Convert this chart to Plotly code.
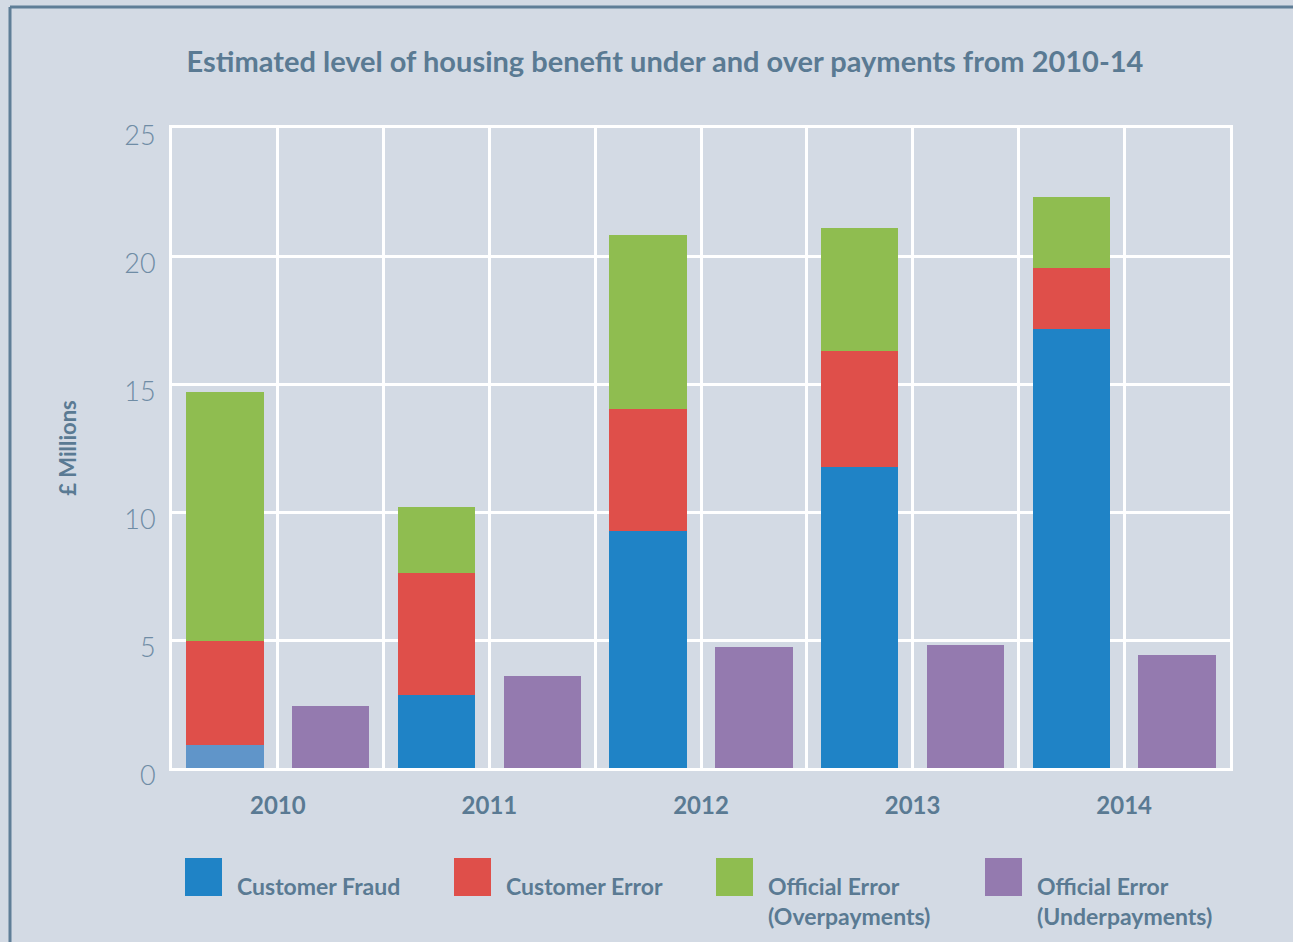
import plotly.graph_objects as go

years = ["2010", "2011", "2012", "2013", "2014"]
customer_fraud = [0.9, 2.85, 9.26, 11.76, 17.15]
customer_error = [4.06, 4.77, 4.76, 4.53, 2.38]
official_over = [9.73, 2.58, 6.8, 4.8, 2.77]
official_under = [2.42, 3.6, 4.73, 4.8, 4.41]
series_names = ["Customer Fraud", "Customer Error", "Official Error<br>(Overpayments)", "Official Error<br>(Underpayments)"]

BG = "#d3dae4"
TXT = "#5a7a93"
TICK = "#6f8ca5"
C_FRAUD = "#1f83c6"
C_FRAUD_2010 = "#6095c9"
C_ERR = "#df4f4a"
C_OVER = "#8fbd50"
C_UNDER = "#947aaf"

W, H = 1293, 942
L, R, T, B = 172, 1230, 128, 768

# bar positions: stacked bar in first half, underpayments in second half of each year slot
x_stack = [2 * i + 0.5 for i in range(len(years))]
x_under = [2 * i + 1.5 for i in range(len(years))]
bw = 0.73

fig = go.Figure()
fraud_colors = [C_FRAUD_2010 if y == "2010" else C_FRAUD for y in years]
fig.add_trace(go.Bar(x=x_stack, y=customer_fraud, width=bw, marker=dict(color=fraud_colors, line_width=0), name=series_names[0]))
fig.add_trace(go.Bar(x=x_stack, y=customer_error, width=bw, marker=dict(color=C_ERR, line_width=0), name=series_names[1]))
fig.add_trace(go.Bar(x=x_stack, y=official_over, width=bw, marker=dict(color=C_OVER, line_width=0), name=series_names[2]))
fig.add_trace(go.Bar(x=x_under, y=official_under, width=bw, marker=dict(color=C_UNDER, line_width=0), name=series_names[3]))

def px(xp):
    return (xp - L) / (R - L)

def py(yp):
    return (B - yp) / (B - T)

shapes = []
annotations = []
# outer frame lines (left and top)
shapes.append(dict(type="line", xref="paper", yref="paper", x0=px(10), x1=px(1300), y0=py(7), y1=py(7), line=dict(color="#5f7e97", width=3)))
shapes.append(dict(type="line", xref="paper", yref="paper", x0=px(10), x1=px(10), y0=py(7), y1=py(950), line=dict(color="#5f7e97", width=3)))

# custom legend
legend_colors = [C_FRAUD, C_ERR, C_OVER, C_UNDER]
sw_x = [185, 454, 716, 985]
for i, (c, nm) in enumerate(zip(legend_colors, series_names)):
    shapes.append(dict(type="rect", xref="paper", yref="paper", x0=px(sw_x[i]), x1=px(sw_x[i] + 37),
                       y0=py(896), y1=py(858), fillcolor=c, line_width=0))
    annotations.append(dict(xref="paper", yref="paper", x=px(sw_x[i] + 50), y=py(870), xanchor="left", yanchor="top",
                            text=nm, showarrow=False, align="left",
                            font=dict(family="Lato", size=23, color=TXT, weight="bold")))

fig.update_layout(
    width=W, height=H,
    margin=dict(l=L, r=W - R, t=T, b=H - B),
    paper_bgcolor=BG, plot_bgcolor=BG,
    barmode="stack", showlegend=False,
    title=dict(text="Estimated level of housing benefit under and over payments from 2010-14",
               x=(665) / W, xanchor="center", y=1 - 62 / H, yanchor="middle",
               font=dict(family="Lato", size=29, color=TXT, weight="bold")),
    xaxis=dict(range=[0, 10], tickmode="array", tickvals=[2 * i + 1 for i in range(len(years))], ticktext=years,
               showgrid=True, gridcolor="white", gridwidth=3, ticks="", ticklabelstandoff=14,
               tickfont=dict(family="Lato", size=24, color=TXT, weight="bold"),
               minor=dict(tickmode="array", tickvals=[2 * i for i in range(len(years) + 1)], showgrid=True, gridcolor="white", gridwidth=3, ticks=""),
               showline=True, linecolor="white", linewidth=3, mirror=True, zeroline=False, fixedrange=True),
    yaxis=dict(range=[0, 25], tick0=0, dtick=5, showgrid=True, gridcolor="white", gridwidth=3,
               tickfont=dict(family="Lato", size=27, color=TICK, weight=300), ticklabelstandoff=8, ticklabelshift=8,
               title=dict(text="£ Millions", standoff=42, font=dict(family="Lato", size=22, color=TXT, weight="bold")),
               showline=True, linecolor="white", linewidth=3, mirror=True, zeroline=False, fixedrange=True),
    shapes=shapes, annotations=annotations,
)

fig.write_html("out.html", config={"displayModeBar": False},
               post_script="document.body.style.margin='0px';document.body.style.overflow='hidden';")
